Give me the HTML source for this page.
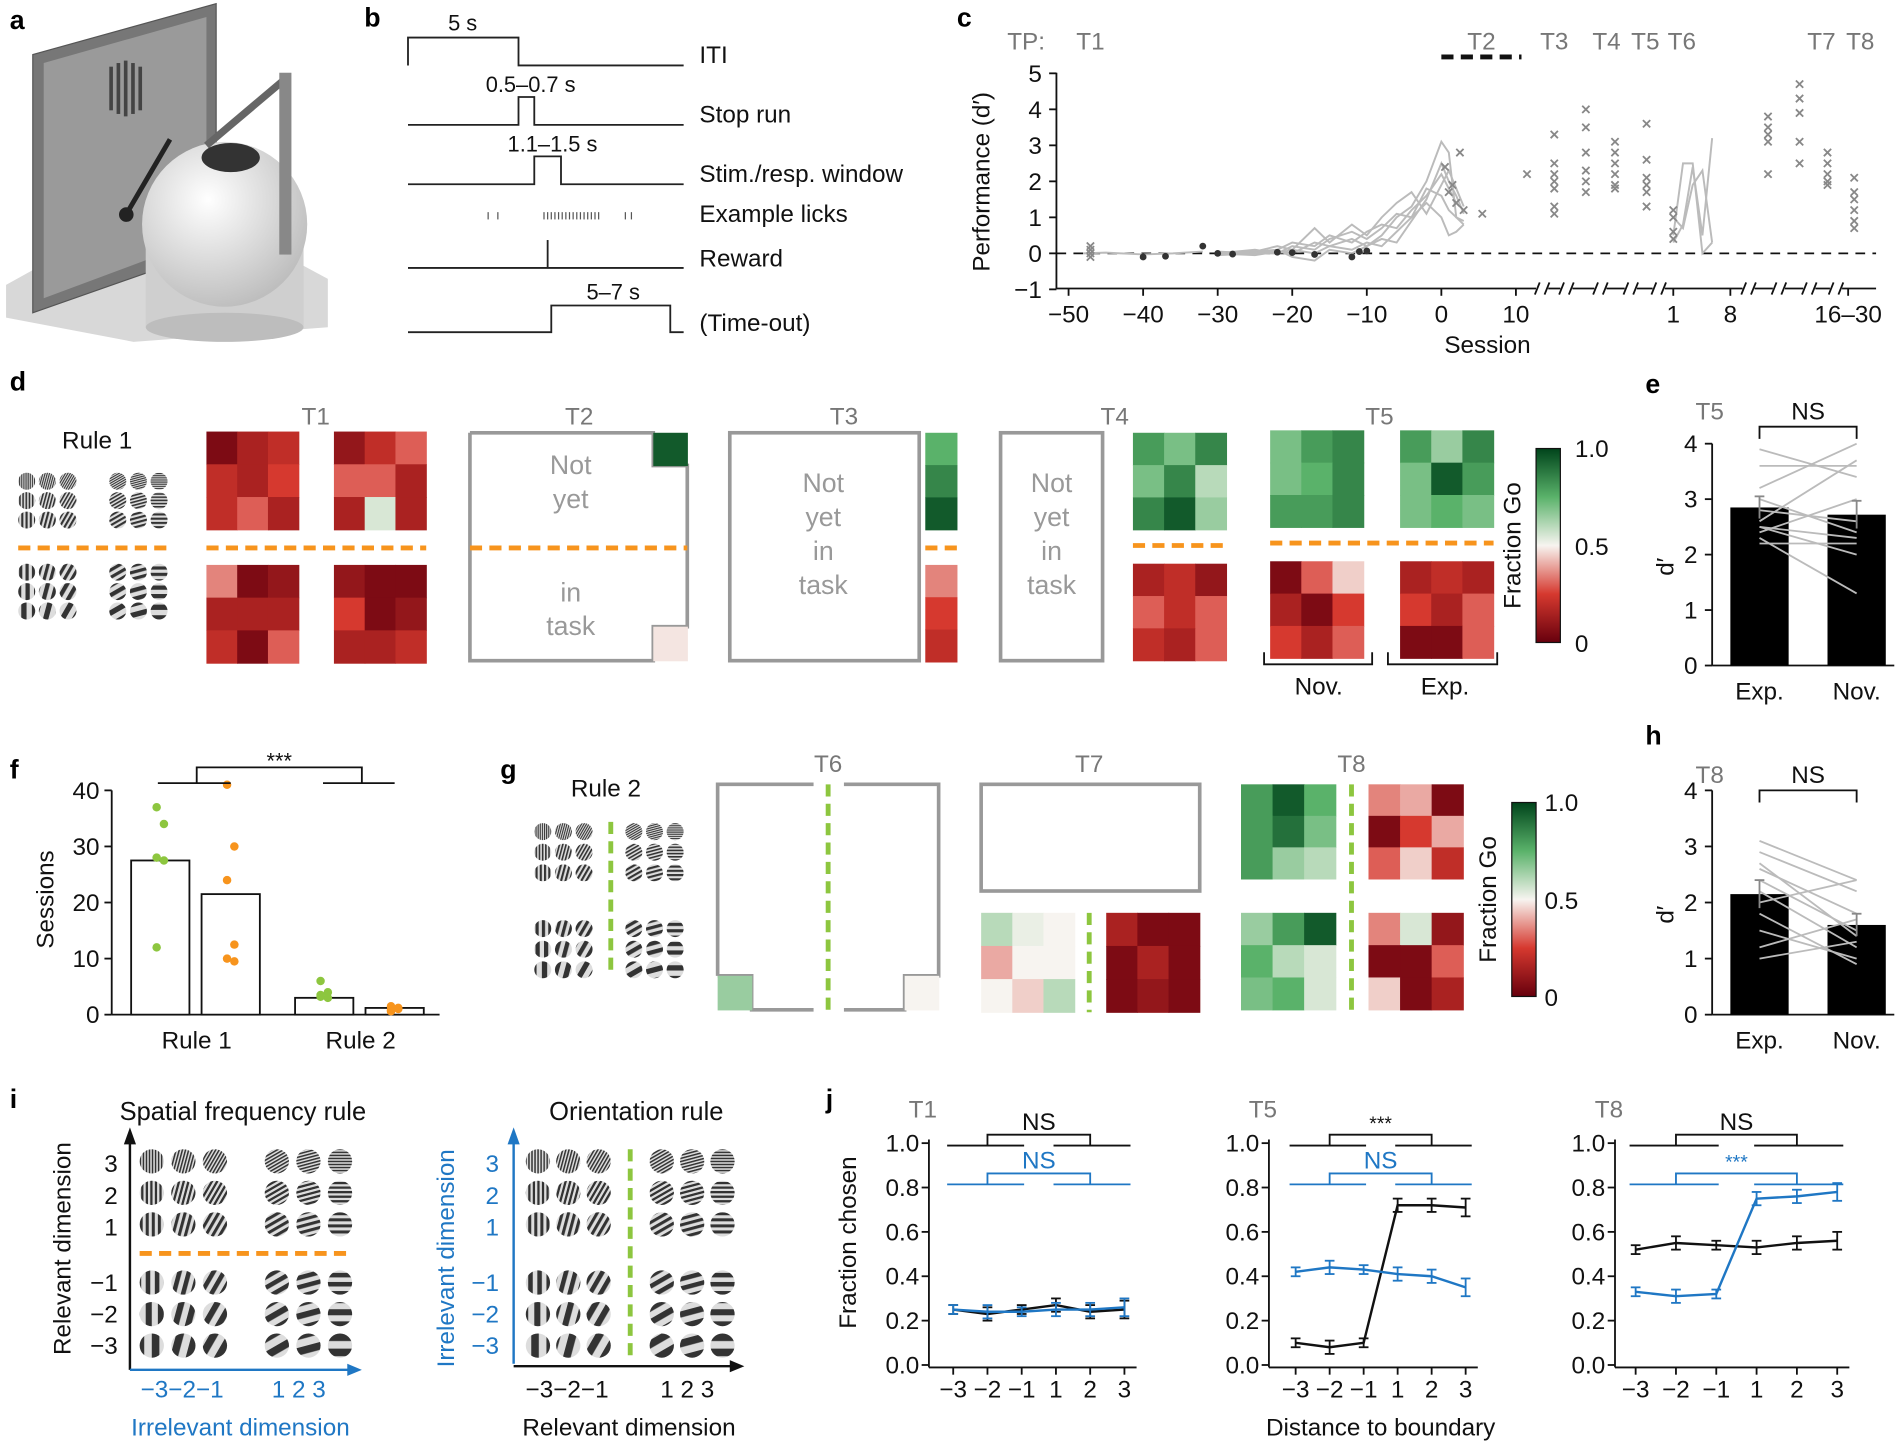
<!DOCTYPE html>
<html><head><meta charset="utf-8">
<style>
html,body{margin:0;padding:0;background:#fff;}
svg{display:block;font-family:"Liberation Sans",Arial,sans-serif;}
</style></head>
<body>
<svg id="fig" width="1904" height="1445" viewBox="0 0 1568 1192" preserveAspectRatio="none" xmlns="http://www.w3.org/2000/svg">
<defs>
<linearGradient id="cbar" x1="0" y1="0" x2="0" y2="1">
<stop offset="0" stop-color="#00441b"/><stop offset="0.25" stop-color="#5ab26a"/><stop offset="0.5" stop-color="#f7f4f0"/><stop offset="0.75" stop-color="#d6392f"/><stop offset="1" stop-color="#67000d"/>
</linearGradient>
<radialGradient id="sph" cx="0.4" cy="0.35" r="0.7"><stop offset="0" stop-color="#fff"/><stop offset="1" stop-color="#bbb"/></radialGradient>
</defs>
<g>
<polygon points="5,235 140,160 270,230 270,270 110,282 5,262" fill="#d8d8d8"/>
<polygon points="27,45 178,3 178,205 27,258" fill="#777" stroke="#555"/>
<polygon points="36,52 170,14 170,196 36,246" fill="#9a9a9a"/>
<g>
<rect x="90" y="55" width="3" height="36" fill="#444"/><rect x="96" y="52" width="3" height="42" fill="#444"/><rect x="102" y="50" width="3" height="46" fill="#444"/><rect x="108" y="52" width="3" height="42" fill="#444"/><rect x="114" y="55" width="3" height="36" fill="#444"/>
</g>
<rect x="120" y="200" width="130" height="70" fill="#cfcfcf"/>
<ellipse cx="185" cy="270" rx="65" ry="12" fill="#bdbdbd"/>
<circle cx="185" cy="185" r="68" fill="url(#sph)"/>
<line x1="105" y1="175" x2="140" y2="115" stroke="#222" stroke-width="4"/>
<line x1="170" y1="120" x2="235" y2="65" stroke="#666" stroke-width="6"/>
<rect x="230" y="60" width="10" height="150" fill="#888"/>
<ellipse cx="190" cy="130" rx="24" ry="12" fill="#333"/>
<circle cx="104" cy="177" r="6" fill="#222"/>
</g>
</svg>
<script>
const NS='http://www.w3.org/2000/svg';
const svg=document.getElementById('fig');
function add(tag,attrs,name,parent){
  const el=document.createElementNS(NS,tag);
  for(const k in attrs)el.setAttribute(k,attrs[k]);
  
  
  (parent||svg).appendChild(el);return el;
}
function T(x,y,s,size,name,anchor,fill,rot,weight){
  const el=add('text',{x:x,y:y,'font-size':size,'text-anchor':anchor||'middle',fill:fill||'#111'},name);
  if(rot)el.setAttribute('transform','rotate(-90 '+x+' '+y+')');
  if(weight)el.setAttribute('font-weight',weight);
  el.textContent=s;return el;
}
function L(x1,y1,x2,y2,name,stroke,w,dash){
  const a={x1:x1,y1:y1,x2:x2,y2:y2,stroke:stroke||'#111','stroke-width':w||1.5};
  if(dash)a['stroke-dasharray']=dash;
  return add('line',a,name);
}
function P(pts,name,stroke,w,fill){return add('polyline',{points:pts.map(p=>p.join(',')).join(' '),fill:fill||'none',stroke:stroke||'#111','stroke-width':w||1.5},name);}
function cmap(v){
  const st=[[0,[103,0,13]],[0.25,[214,57,47]],[0.5,[247,244,240]],[0.75,[90,178,106]],[1,[0,68,27]]];
  for(let i=0;i<4;i++){const a=st[i],b=st[i+1];if(v<=b[0]){const t=(v-a[0])/(b[0]-a[0]);return 'rgb('+a[1].map((c,j)=>Math.round(c+(b[1][j]-c)*t)).join(',')+')';}}
  return 'rgb(0,68,27)';
}
function heat(x,y,w,h,vals,name){
  const rows=vals.length,cols=vals[0].length;
  vals.forEach((r,i)=>r.forEach((v,j)=>{
    const el=add('rect',{x:x+j*w/cols,y:y+i*h/rows,width:w/cols+0.5,height:h/rows+0.5,fill:cmap(v)},name+'-cell');
  }));
}
const pats={};
function pat(p,a){
  const id='g'+p+'_'+a;if(pats[id])return id;pats[id]=1;
  const defs=svg.querySelector('defs');
  const pt=document.createElementNS(NS,'pattern');
  pt.setAttribute('id',id);pt.setAttribute('patternUnits','userSpaceOnUse');pt.setAttribute('width',p);pt.setAttribute('height',p);
  pt.setAttribute('patternTransform','rotate('+a+')');
  const r1=document.createElementNS(NS,'rect');r1.setAttribute('width',p);r1.setAttribute('height',p);r1.setAttribute('fill','#ddd');pt.appendChild(r1);
  const r2=document.createElementNS(NS,'rect');r2.setAttribute('width',p/2);r2.setAttribute('height',p);r2.setAttribute('fill','#333');pt.appendChild(r2);
  defs.appendChild(pt);return id;
}
const topFreq=[2,3,4], botFreq=[6,8,10];
const leftAng=[0,15,30], rightAng=[60,75,90];
function gratings(x0,x1,y0,y1,dx,dy,r,name){
  [[y0,topFreq],[y1,botFreq]].forEach(([yy,fr])=>{
    [[x0,leftAng],[x1,rightAng]].forEach(([xx,ang])=>{
      for(let i=0;i<3;i++)for(let j=0;j<3;j++){
        const id=pat(fr[i]*r/8,ang[j]);
        add('circle',{cx:xx+j*dx,cy:yy+i*dy,r:r,fill:'url(#'+id+')'},name);
      }
    });
  });
}
[['a',8,24],['b',300,22],['c',788,22],['d',8,322],['e',1355,324],['f',8,642],['g',412,642],['h',1355,614],['i',8,914],['j',680,914]].forEach(d=>T(d[1],d[2],d[0],22,'panel-letter-'+d[0],'start','#000',false,'bold'));

// panel b
const bl='#222';
P([[336,54],[336,31],[427,31],[427,54],[563,54]],'iti-trace',bl);
T(381,25,'5 s',18,'iti-duration');T(576,52,'ITI',20,'iti-label','start');
P([[336,103],[427,103],[427,80],[440,80],[440,103],[563,103]],'stop-run-trace',bl);
T(437,76,'0.5–0.7 s',18,'stop-run-duration');T(576,101,'Stop run',20,'stop-run-label','start');
P([[336,152],[440,152],[440,129],[462,129],[462,152],[563,152]],'stim-window-trace',bl);
T(455,125,'1.1–1.5 s',18,'stim-window-duration');T(576,150,'Stim./resp. window',20,'stim-window-label','start');
const lickX=[402,410,448,451,454,457,460,463,466,469,472,475,478,481,484,487,490,493,515,520];
lickX.forEach(x=>L(x,175,x,181,'lick-tick','#555',1));
T(576,183,'Example licks',20,'licks-label','start');
P([[336,221],[563,221]],'reward-trace',bl);L(451,198,451,221,'reward-pulse',bl);
T(576,220,'Reward',20,'reward-label','start');
P([[336,274],[454,274],[454,252],[552,252],[552,274],[563,274]],'timeout-trace',bl);
T(505,247,'5–7 s',18,'timeout-duration');T(576,273,'(Time-out)',20,'timeout-label','start');

// panel c
const cX0=1187, cPx=6.14, cY0=209, cPy=29.7;
const cx=s=>cX0+s*cPx, cy=v=>cY0-v*cPy;
const cYTicks=[5,4,3,2,1,0,-1];
const cXTicks=[-50,-40,-30,-20,-10,0,10];
const mouseSessions=[-30,-25,-22,-20,-17,-15,-12,-10,-8,-6,-4,-2,0,1,2,3];
const mouseA=[0,0.05,0.1,0.3,0.2,0.5,0.3,0.6,0.8,0.7,1.2,1.6,2.2,1.8,1.4,1.2];
const mouseB=[0,-0.05,0.05,0,0.3,0.2,0.4,0.2,0.5,1.0,1.3,2.0,3.1,2.8,1.0,0.9];
const mouseC=[0.05,0,0,0.1,0,0.2,0.1,0.3,0.2,0.6,1.0,1.4,1.0,0.5,0.6,0.8];
const mouseD=[0,0.05,0.2,0.1,0.7,0.3,0.8,0.5,1.0,1.4,1.7,1.1,1.9,2.3,1.8,1.3];
const mouseE=[-0.05,0,0.1,-0.1,-0.2,0.1,0,0.2,0.4,0.3,0.9,1.5,2.5,2.0,1.6,1.1];
const mouseF=[0,0.1,0,0.2,0.1,0.4,0.6,0.4,0.7,1.1,1.0,1.8,1.6,1.2,1.0,0.8];
const longSessions=[-48,-45,-40,-36,-32];
const longVals=[0,0.02,-0.03,0,0.05];
const dotSessions=[-40,-37,-32,-30,-28,-22,-20,-17,-12,-11,-10];
const dotVals=[-0.1,-0.08,0.2,0,-0.02,0.03,0.02,-0.03,-0.1,0.05,0.07];
const t2Sess=[0,0.5,1,1.5,2,2.5,5,11];
const t2Vals=[2.4,1.7,1.9,1.4,2.8,1.2,1.1,2.2];
const tpCols=[1280,1306,1330,1356,1456,1482,1505,1527];
const tpVals=[[3.3,2.5,2.2,2.0,1.8,1.3,1.1],[4.0,3.5,2.8,2.3,2.0,1.7],[3.1,2.8,2.5,2.2,1.9,1.8],[3.6,2.6,2.1,1.9,1.7,1.3],[3.8,3.5,3.3,3.1,2.2],[4.7,4.3,3.9,3.1,2.5],[2.8,2.5,2.2,2.0,1.9],[2.1,1.7,1.5,1.2,0.9,0.7]];
const t6Sess=[0,1,2,3,4];
const t6A=[0.3,0.8,2.4,0.5,3.2];const t6B=[1.0,0.7,1.9,2.3,0.3];const t6C=[0.5,2.5,2.5,0,0.3];
L(870,60,870,238,'c-y-axis');
cYTicks.forEach(v=>{L(864,cy(v),870,cy(v),'c-y-tick');T(858,cy(v)+7,v===-1?'−1':String(v),20,'c-y-tick-label','end');});
L(870,238,1545,238,'c-x-axis');
cXTicks.forEach(s=>{L(cx(s),238,cx(s),244,'c-x-tick');T(cx(s),266,s<0?'−'+(-s):String(s),20,'c-x-tick-label');});
[1270,1290,1318,1343,1366,1440,1465,1490,1512].forEach(x=>{add('rect',{x:x-5,y:233,width:10,height:10,fill:'#fff'},'axis-break-gap');L(x-6,243,x-2,233,'axis-break');L(x+2,243,x+6,233,'axis-break');});
[[1378,'1'],[1425,'8'],[1522,'16–30']].forEach(d=>{L(d[0],238,d[0],244,'c-x-tick');T(d[0],266,d[1],20,'c-x-tick-label');});
T(1225,291,'Session',20,'c-x-title');
T(815,150,'Performance (d′)',20,'c-y-title','middle','#111',true);
L(870,cy(0),1545,cy(0),'zero-line','#111',1.5,'8,6');
T(845,41,'TP:',20,'tp-label','middle','#777');
[['T1',898],['T2',1220],['T3',1280],['T4',1323],['T5',1355],['T6',1385],['T7',1500],['T8',1532]].forEach(d=>T(d[1],41,d[0],20,'tp-'+d[0],'middle','#777'));
L(1187,47,1253,47,'t2-span-dash','#111',4,'10,6');
[mouseA,mouseB,mouseC,mouseD,mouseE,mouseF].forEach(m=>P(mouseSessions.map((s,i)=>[cx(s),cy(m[i])]),'mouse-learning-curve','#bbb',1.6));
P(longSessions.map((s,i)=>[cx(s),cy(longVals[i])]),'mouse-learning-curve','#bbb',1.6);
dotSessions.forEach((s,i)=>add('circle',{cx:cx(s),cy:cy(dotVals[i]),r:2.8,fill:'#333'},'rule-switch-dot'));
function xmark(x,y,name){const g=add('g',{stroke:'#888','stroke-width':1.5},name);add('line',{x1:x-3,y1:y-3,x2:x+3,y2:y+3},'x-stroke',g);add('line',{x1:x-3,y1:y+3,x2:x+3,y2:y-3},'x-stroke',g);}
[0.2,0.1,0,-0.1].forEach(v=>xmark(898,cy(v),'t1-marker'));
t2Sess.forEach((s,i)=>xmark(cx(s)+3,cy(t2Vals[i]),'t2-marker'));
tpCols.forEach((x,k)=>tpVals[k].forEach(v=>xmark(x,cy(v),'tp-marker')));
[t6A,t6B,t6C].forEach(m=>P(t6Sess.map((s,i)=>[1378+s*8,cy(m[i])]),'t6-curve','#bbb',1.6));
[1.2,1.0,0.6,0.4].forEach(v=>xmark(1378,cy(v),'t6-marker'));

// panel d
const orange='#f7941d', green='#8dc63f';
T(80,370,'Rule 1',20,'rule1-label');
gratings(22,97,397,472,17,16,7,'rule1-grating');
L(15,452,140,452,'rule-boundary-orange',orange,4,'10,6');
const t1TL=[[0.05,0.15,0.2],[0.2,0.15,0.25],[0.2,0.3,0.15]];
const t1TR=[[0.1,0.2,0.3],[0.3,0.3,0.15],[0.15,0.55,0.15]];
const t1BL=[[0.35,0.05,0.1],[0.15,0.15,0.15],[0.2,0.05,0.3]];
const t1BR=[[0.1,0.05,0.05],[0.25,0.05,0.1],[0.15,0.15,0.2]];
heat(170,356,76,81,t1TL,'t1-heatmap');heat(275,356,76,81,t1TR,'t1-heatmap');
heat(170,466,76,81,t1BL,'t1-heatmap');heat(275,466,76,81,t1BR,'t1-heatmap');
L(170,452,351,452,'rule-boundary-orange',orange,4,'10,6');
T(260,350,'T1',20,'t1-title','middle','#777');
P([[387,357],[538,357],[538,384],[566,384],[566,517],[538,517],[538,545],[387,545],[387,357]],'t2-box','#999',3);
heat(538,357,28,27,[[0.95]],'t2-heatmap');heat(538,517,28,28,[[0.48]],'t2-heatmap');
T(470,391,'Not',22,'not-yet-text','middle','#999');T(470,419,'yet',22,'not-yet-text','middle','#999');
T(470,496,'in',22,'not-yet-text','middle','#999');T(470,524,'task',22,'not-yet-text','middle','#999');
L(387,452,566,452,'rule-boundary-orange',orange,4,'10,6');
T(477,350,'T2',20,'t2-title','middle','#777');
add('rect',{x:601,y:357,width:156,height:188,fill:'none',stroke:'#999','stroke-width':3},'t3-box');
const t3Top=[[0.75],[0.85],[0.95]], t3Bot=[[0.35],[0.25],[0.2]];
heat(762,357,26,80,t3Top,'t3-heatmap');heat(762,466,26,80,t3Bot,'t3-heatmap');
['Not','yet','in','task'].forEach((s,i)=>T(678,406+i*28,s,22,'not-yet-text','middle','#999'));
L(762,452,788,452,'rule-boundary-orange',orange,4,'10,6');
T(695,350,'T3',20,'t3-title','middle','#777');
add('rect',{x:824,y:357,width:84,height:188,fill:'none',stroke:'#999','stroke-width':3},'t4-box');
['Not','yet','in','task'].forEach((s,i)=>T(866,406+i*28,s,22,'not-yet-text','middle','#999'));
const t4Top=[[0.8,0.7,0.85],[0.7,0.85,0.6],[0.85,0.95,0.65]];
const t4Bot=[[0.15,0.2,0.1],[0.3,0.2,0.3],[0.2,0.15,0.3]];
heat(933,357,77,80,t4Top,'t4-heatmap');heat(933,465,77,80,t4Bot,'t4-heatmap');
L(933,450,1010,450,'rule-boundary-orange',orange,4,'10,6');
T(918,350,'T4',20,'t4-title','middle','#777');
const t5TL=[[0.7,0.8,0.85],[0.7,0.75,0.85],[0.8,0.8,0.85]];
const t5TR=[[0.8,0.65,0.85],[0.7,0.95,0.8],[0.7,0.75,0.7]];
const t5BL=[[0.05,0.3,0.45],[0.15,0.05,0.25],[0.25,0.15,0.3]];
const t5BR=[[0.15,0.2,0.15],[0.25,0.15,0.3],[0.05,0.05,0.3]];
heat(1046,355,77,80,t5TL,'t5-heatmap');heat(1153,355,77,80,t5TR,'t5-heatmap');
heat(1046,463,77,80,t5BL,'t5-heatmap');heat(1153,463,77,80,t5BR,'t5-heatmap');
L(1046,448,1230,448,'rule-boundary-orange',orange,4,'10,6');
T(1136,350,'T5',20,'t5-title','middle','#777');
P([[1041,538],[1041,548],[1130,548],[1130,538]],'novel-bracket');T(1086,573,'Nov.',20,'novel-label');
P([[1143,538],[1143,548],[1233,548],[1233,538]],'experienced-bracket');T(1190,573,'Exp.',20,'experienced-label');
add('rect',{x:1265,y:370,width:20,height:160,fill:'url(#cbar)',stroke:'#111','stroke-width':1},'d-colorbar');
T(1297,377,'1.0',20,'d-colorbar-tick','start');T(1297,458,'0.5',20,'d-colorbar-tick','start');T(1297,538,'0',20,'d-colorbar-tick','start');
T(1252,450,'Fraction Go',20,'d-colorbar-title','middle','#111',true);

// panels e, h
function pairPanel(o){
  const y=v=>o.y0-v*(o.y0-o.y4)/4;
  L(1410,o.y4,1410,o.y0,o.id+'-y-axis');L(1410,o.y0,1560,o.y0,o.id+'-x-axis');
  [0,1,2,3,4].forEach(v=>{L(1404,y(v),1410,y(v),o.id+'-y-tick');T(1398,y(v)+7,String(v),20,o.id+'-y-tick-label','end');});
  T(1378,(o.y0+o.y4)/2+10,'d′',20,o.id+'-y-title','middle','#111',true);
  o.bars.forEach((v,i)=>add('rect',{x:o.bx[i]-24,y:y(v),width:48,height:o.y0-y(v),fill:'#000'},o.id+'-bar-'+o.cats[i]));
  o.exp.forEach((v,i)=>L(o.bx[0],y(v),o.bx[1],y(o.nov[i]),o.id+'-mouse-pair','#bbb',1.5));
  o.bars.forEach((v,i)=>{L(o.bx[i],y(v+o.err[i]),o.bx[i],y(v-o.err[i]),o.id+'-error-bar','#888',1.5);L(o.bx[i]-4,y(v+o.err[i]),o.bx[i]+4,y(v+o.err[i]),o.id+'-error-cap','#888',1.5);});
  o.cats.forEach((c,i)=>T(o.bx[i],o.y0+28,c,20,o.id+'-x-tick-label'));
  P([[o.bx[0],o.by+10],[o.bx[0],o.by],[o.bx[1],o.by],[o.bx[1],o.by+10]],o.id+'-ns-bracket');
  T(1489,o.by-6,'NS',20,o.id+'-ns-label');T(1408,o.by-6,o.tp,20,o.id+'-tp-label','middle','#777');
}
const eCats=['Exp.','Nov.'];
const eBars=[2.85,2.72];
const eErr=[0.2,0.25];
const eExp=[3.2,3.9,3.6,3.0,2.5,2.4,2.2,2.3,2.8,2.6,2.5];
const eNov=[4.0,3.4,3.6,2.4,2.3,3.0,2.2,1.3,2.6,3.7,2.0];
pairPanel({id:'e',y0:549,y4:366,bx:[1449,1529],cats:eCats,bars:eBars,err:eErr,exp:eExp,nov:eNov,by:352,tp:'T5'});
const hCats=['Exp.','Nov.'];
const hBars=[2.15,1.6];
const hErr=[0.25,0.2];
const hExp=[3.1,2.9,2.6,2.4,2.2,2.0,1.5,1.0,1.2,2.7,1.8];
const hNov=[2.4,2.2,1.8,1.5,1.2,2.4,1.0,1.3,1.7,1.4,0.9];
pairPanel({id:'h',y0:837,y4:652,bx:[1449,1529],cats:hCats,bars:hBars,err:hErr,exp:hExp,nov:hNov,by:652,tp:'T8'});

// panel f
const fGroups=['Rule 1','Rule 2'];
const fBars=[27.5,21.5,3,1.2];
const fGreen1=[37,34,28,27.5,12];
const fOrange1=[41,30,24,12.5,10,9.5];
const fGreen2=[6,4,3.5,3,3.2];
const fOrange2=[1.5,1,0.8,1.2,0.6];
const fy=v=>837-v*(837-652)/40;
const fbx=[132,190,267,325];
L(92,652,92,837,'f-y-axis');L(92,837,362,837,'f-x-axis');
[0,10,20,30,40].forEach(v=>{L(86,fy(v),92,fy(v),'f-y-tick');T(82,fy(v)+7,String(v),20,'f-y-tick-label','end');});
T(44,742,'Sessions',20,'f-y-title','middle','#111',true);
fBars.forEach((v,i)=>add('rect',{x:fbx[i]-24,y:fy(v),width:48,height:837-fy(v),fill:'#fff',stroke:'#111','stroke-width':1.5},'f-bar'));
[[fGreen1,0,green],[fOrange1,1,orange],[fGreen2,2,green],[fOrange2,3,orange]].forEach(([a,i,c])=>a.forEach((v,k)=>add('circle',{cx:fbx[i]+(k%2?3:-3),cy:fy(v),r:3.5,fill:c},'f-dot')));
T(162,865,fGroups[0],20,'f-x-tick-label');T(297,865,fGroups[1],20,'f-x-tick-label');
P([[162,646],[162,633],[298,633],[298,646]],'f-sig-bracket');L(130,646,190,646,'f-sig-sub');L(266,646,325,646,'f-sig-sub');
T(230,634,'***',18,'f-sig-label');

// panel g
T(499,657,'Rule 2',20,'rule2-label');
gratings(447,522,686,766,17,17,7,'rule2-grating');
L(503,678,503,805,'rule-boundary-green',green,4,'10,6');
P([[591,805],[591,647],[670,647]],'t6-box','#999',3);P([[695,647],[773,647],[773,805],[745,805],[745,833],[695,833]],'t6-box','#999',3);
P([[670,833],[619,833],[619,805],[591,805]],'t6-box','#999',3);
heat(591,805,28,28,[[0.65]],'t6-heatmap');heat(745,805,28,28,[[0.5]],'t6-heatmap');
L(682,647,682,835,'rule-boundary-green',green,4,'10,6');
T(682,637,'T6',20,'t6-title','middle','#777');
add('rect',{x:808,y:647,width:180,height:88,fill:'none',stroke:'#999','stroke-width':3},'t7-box');
const t7L=[[0.6,0.52,0.5],[0.4,0.5,0.5],[0.5,0.45,0.6]];
const t7R=[[0.15,0.05,0.05],[0.05,0.15,0.05],[0.05,0.1,0.05]];
heat(808,753,77,82,t7L,'t7-heatmap');heat(911,753,77,82,t7R,'t7-heatmap');
L(897,753,897,835,'rule-boundary-green',green,4,'10,6');
T(897,637,'T7',20,'t7-title','middle','#777');
const t8TL=[[0.8,0.95,0.75],[0.8,0.9,0.7],[0.8,0.65,0.6]];
const t8BL=[[0.65,0.8,0.95],[0.75,0.6,0.55],[0.7,0.75,0.55]];
const t8TR=[[0.35,0.4,0.05],[0.05,0.25,0.4],[0.3,0.45,0.2]];
const t8BR=[[0.35,0.55,0.1],[0.05,0.05,0.3],[0.45,0.05,0.15]];
heat(1022,647,78,78,t8TL,'t8-heatmap');heat(1022,753,78,80,t8BL,'t8-heatmap');
heat(1127,647,78,78,t8TR,'t8-heatmap');heat(1127,753,78,80,t8BR,'t8-heatmap');
L(1113,647,1113,835,'rule-boundary-green',green,4,'10,6');
T(1113,637,'T8',20,'t8-title','middle','#777');
add('rect',{x:1245,y:662,width:20,height:160,fill:'url(#cbar)',stroke:'#111','stroke-width':1},'g-colorbar');
T(1272,669,'1.0',20,'g-colorbar-tick','start');T(1272,750,'0.5',20,'g-colorbar-tick','start');T(1272,830,'0',20,'g-colorbar-tick','start');
T(1232,742,'Fraction Go',20,'g-colorbar-title','middle','#111',true);

// panel i
const blue='#1f77c4';
T(200,924,'Spatial frequency rule',21,'i-left-title');
gratings(125,228,958,1058,26,26,10,'sf-rule-grating');
L(115,1034,290,1034,'rule-boundary-orange',orange,4,'10,6');
L(107,1130,107,940,'i-left-y-arrow','#111',2);add('polygon',{points:'102,944 107,930 112,944',fill:'#111'},'arrowhead');
L(107,1130,290,1130,'i-left-x-arrow',blue,2);add('polygon',{points:'286,1125 298,1130 286,1135',fill:blue},'arrowhead');
['3','2','1','−1','−2','−3'].forEach((s,i)=>T(97,[967,993,1019,1065,1091,1117][i],s,20,'i-left-y-tick','end'));
T(150,1153,'−3−2−1',20,'i-left-x-tick','middle',blue);T(246,1153,'1  2  3',20,'i-left-x-tick','middle',blue);
T(198,1184,'Irrelevant dimension',20,'i-left-x-title','middle',blue);
T(58,1030,'Relevant dimension',20,'i-left-y-title','middle','#111',true);
T(524,924,'Orientation rule',21,'i-right-title');
gratings(443,545,958,1058,25,26,10,'ori-rule-grating');
L(519,948,519,1118,'rule-boundary-green',green,4,'10,6');
L(423,1125,423,940,'i-right-y-arrow',blue,2);add('polygon',{points:'418,944 423,930 428,944',fill:blue},'arrowhead');
L(423,1127,605,1127,'i-right-x-arrow','#111',2);add('polygon',{points:'601,1122 613,1127 601,1132',fill:'#111'},'arrowhead');
['3','2','1','−1','−2','−3'].forEach((s,i)=>T(411,[967,993,1019,1065,1091,1117][i],s,20,'i-right-y-tick','end',blue));
T(467,1153,'−3−2−1',20,'i-right-x-tick');T(566,1153,'1  2  3',20,'i-right-x-tick');
T(518,1184,'Relevant dimension',20,'i-right-x-title');
T(374,1038,'Irrelevant dimension',20,'i-right-y-title','middle',blue,true);

// panel j
const jCats=['−3','−2','−1','1','2','3'];
const jYTicks=[0,0.2,0.4,0.6,0.8,1.0];
const jT1Black=[0.25,0.23,0.25,0.27,0.24,0.25];
const jT1Blue=[0.25,0.24,0.24,0.25,0.25,0.26];
const jT5Black=[0.10,0.08,0.10,0.72,0.72,0.71];
const jT5Blue=[0.42,0.44,0.43,0.41,0.40,0.35];
const jT8Black=[0.52,0.55,0.54,0.53,0.55,0.56];
const jT8Blue=[0.33,0.31,0.32,0.75,0.76,0.78];
const jErr=[0.02,0.03,0.02,0.03,0.03,0.04];
function jPanel(o){
  const y=v=>1126-v*183;const x=i=>o.x0+i*o.dx;
  L(o.ax,940,o.ax,1128,o.id+'-y-axis');L(o.ax,1128,x(5)+10,1128,o.id+'-x-axis');
  jYTicks.forEach(v=>{L(o.ax-6,y(v),o.ax,y(v),o.id+'-y-tick');T(o.ax-8,y(v)+7,v.toFixed(1),20,o.id+'-y-tick-label','end');});
  jCats.forEach((c,i)=>{L(x(i),1128,x(i),1134,o.id+'-x-tick');T(x(i),1153,c,20,o.id+'-x-tick-label');});
  [[o.black,'#111'],[o.blue,blue]].forEach(([d,c])=>{
    P(d.map((v,i)=>[x(i),y(v)]),o.id+'-line',c,2);
    d.forEach((v,i)=>{L(x(i),y(v+jErr[i]),x(i),y(v-jErr[i]),o.id+'-error-bar',c,1.5);L(x(i)-4,y(v+jErr[i]),x(i)+4,y(v+jErr[i]),o.id+'-error-cap',c,1.5);L(x(i)-4,y(v-jErr[i]),x(i)+4,y(v-jErr[i]),o.id+'-error-cap',c,1.5);});
  });
  const mid=(x(0)+x(5))/2;
  [[936,o.s1,'#111'],[968,o.s2,blue]].forEach(([yy,s,c])=>{
    P([[x(1),yy+9],[x(1),yy],[x(4),yy],[x(4),yy+9]],o.id+'-sig-bracket',c);
    L(x(0)-5,yy+9,x(2)+2,yy+9,o.id+'-sig-sub',c);L(x(3)-2,yy+9,x(5)+5,yy+9,o.id+'-sig-sub',c);
    T(mid,yy-4,s,s==='NS'?20:16,o.id+'-sig-label','middle',c);
  });
  T(o.ax-5,922,o.tp,20,o.id+'-tp-label','middle','#777');
}
jPanel({id:'j-t1',ax:765,x0:785,dx:28.2,black:jT1Black,blue:jT1Blue,s1:'NS',s2:'NS',tp:'T1'});
jPanel({id:'j-t5',ax:1045,x0:1067,dx:28,black:jT5Black,blue:jT5Blue,s1:'***',s2:'NS',tp:'T5'});
jPanel({id:'j-t8',ax:1330,x0:1347,dx:33.2,black:jT8Black,blue:jT8Blue,s1:'NS',s2:'***',tp:'T8'});
T(705,1025,'Fraction chosen',20,'j-y-title','middle','#111',true);
T(1137,1184,'Distance to boundary',20,'j-x-title');
</script>
</body></html>
